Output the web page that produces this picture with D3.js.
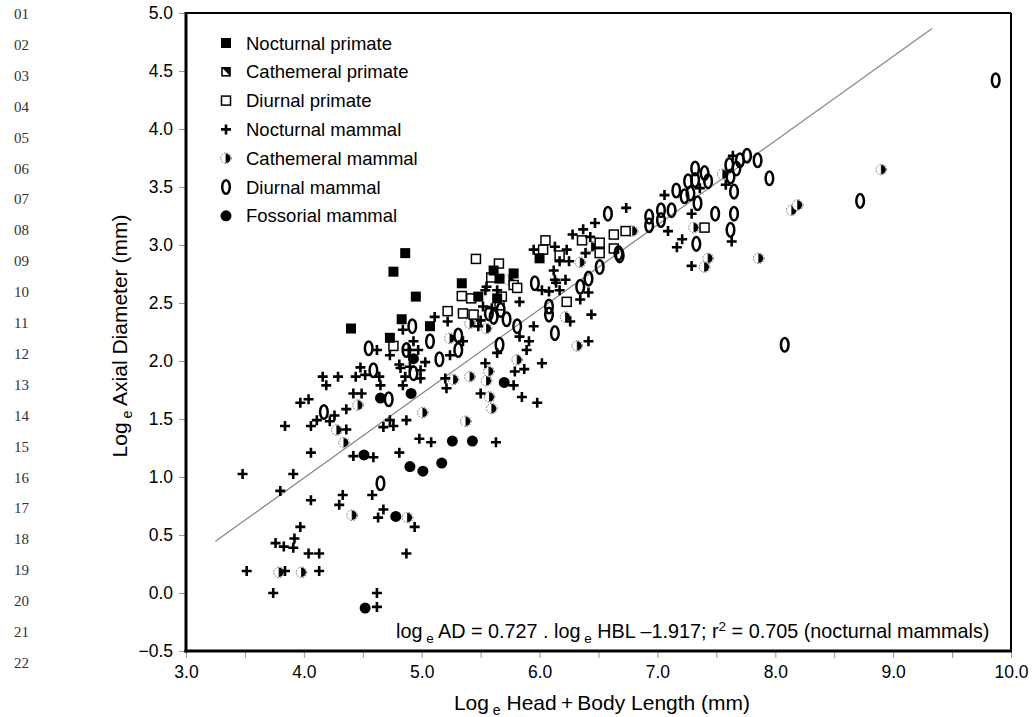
<!DOCTYPE html>
<html>
<head>
<meta charset="utf-8">
<script src="https://cdn.jsdelivr.net/npm/d3@7"></script>
<style>
  html, body { margin: 0; padding: 0; background: #fff; }
  svg { display: block; }
  text { font-family: "Liberation Sans", Arial, Helvetica, sans-serif; }
</style>
</head>
<body>
<svg id="chart" width="1034" height="717"></svg>
<script>
// Log-log scatter of axial eye diameter vs head+body length, by activity group.

const xTicks = [3, 4, 5, 6, 7, 8, 9, 10];
const yTicks = [-0.5, 0, 0.5, 1, 1.5, 2, 2.5, 3, 3.5, 4, 4.5, 5];
const lineNumbers = ["01","02","03","04","05","06","07","08","09","10","11","12","13","14","15","16","17","18","19","20","21","22"];

const legendLabels = ["Nocturnal primate", "Cathemeral primate", "Diurnal primate",
  "Nocturnal mammal", "Cathemeral mammal", "Diurnal mammal", "Fossorial mammal"];

// regression for nocturnal mammals: log AD = slope * log HBL + intercept
const fitSlope = 0.727;
const fitIntercept = -1.917;
const fitRange = [3.25, 9.33];

const nocPrimateX = [4.86, 4.76, 4.83, 4.40, 4.73, 4.95, 5.07, 5.34, 5.48, 5.61, 5.78, 5.66, 5.64, 6.00];
const nocPrimateY = [2.93, 2.77, 2.36, 2.28, 2.20, 2.555, 2.30, 2.67, 2.555, 2.78, 2.755, 2.71, 2.54, 2.885];

const cathPrimateX = [];
const cathPrimateY = [];

const diuPrimateX = [4.76, 5.34, 5.42, 5.22, 5.35, 5.44, 5.46, 5.655, 5.59, 5.78, 5.81, 5.68, 5.66,
  6.05, 6.03, 6.17, 6.36, 6.51, 6.51, 6.63, 6.63, 6.23, 6.73, 7.40];
const diuPrimateY = [2.13, 2.56, 2.54, 2.43, 2.41, 2.40, 2.88, 2.84, 2.72, 2.655, 2.63, 2.555, 2.48,
  3.04, 2.96, 2.91, 3.04, 3.02, 2.93, 3.09, 2.97, 2.51, 3.12, 3.15];

const nocMammalX = [3.515, 3.84, 4.13, 3.74, 4.62, 4.62,
  3.84, 4.06, 4.36, 4.06, 4.42, 4.59, 4.81,
  3.48, 3.91, 3.80, 4.06, 4.33, 4.30, 4.58,
  4.675, 4.63, 3.97, 3.92, 3.76, 3.83, 3.91, 4.04, 4.13, 4.87,
  4.84, 4.62, 4.73, 4.81, 4.48, 4.52, 4.44, 4.29, 4.16, 4.19, 4.64, 4.65, 4.84, 4.42, 4.49,
  4.36, 4.04, 3.97, 4.11, 4.26, 4.22, 4.73, 4.87, 4.675, 4.76,
  5.55, 5.11, 5.22, 5.48, 4.93, 4.97, 4.89, 5.35, 5.24, 5.03, 4.99, 4.90, 4.82, 4.86, 4.99,
  5.20, 5.21, 5.54,
  5.54, 5.64, 5.83, 5.52, 5.595, 5.50, 5.83, 5.95, 5.91, 5.89, 5.64, 6.02, 5.79, 5.87,
  5.50, 5.78, 5.85, 5.98, 6.12, 5.95, 6.13, 6.23, 6.28, 6.37, 6.43, 6.47, 6.39, 6.17, 6.25,
  6.22, 6.13, 6.08, 6.14, 6.02, 6.17, 6.345, 6.415, 6.44, 6.26, 6.415,
  4.98, 5.08, 5.63, 4.94,
  6.735, 7.06, 7.09, 7.36, 7.29, 7.21, 7.165, 7.29, 7.63, 7.58, 7.64];
const nocMammalY = [0.19, 0.19, 0.19, 0.00, 0.00, -0.12,
  1.44, 1.44, 1.41, 1.21, 1.18, 1.17, 1.21,
  1.026, 1.026, 0.88, 0.80, 0.845, 0.76, 0.845,
  0.72, 0.65, 0.57, 0.47, 0.43, 0.40, 0.39, 0.34, 0.34, 0.34,
  2.27, 2.095, 2.05, 1.97, 1.945, 1.88, 1.865, 1.865, 1.865, 1.79, 1.865, 1.79, 1.79, 1.72, 1.72,
  1.585, 1.67, 1.64, 1.49, 1.53, 1.48, 1.49, 1.49, 1.43, 1.44,
  2.64, 2.38, 2.34, 2.30, 2.17, 2.095, 2.095, 2.17, 2.05, 1.99, 1.92, 1.95, 1.94, 1.865, 1.85,
  1.85, 1.765, 1.98,
  2.61, 2.61, 2.51, 2.47, 2.455, 2.35, 2.21, 2.30, 2.17, 2.095, 2.07, 1.98, 1.91, 1.93,
  1.72, 1.79, 1.69, 1.64, 2.78, 2.96, 2.985, 2.96, 3.09, 3.135, 3.07, 3.19, 2.93, 2.86, 2.86,
  2.70, 2.70, 2.60, 2.675, 2.61, 2.61, 2.53, 2.59, 2.40, 2.34, 2.17,
  1.33, 1.30, 1.30, 0.57,
  3.32, 3.43, 3.12, 3.49, 3.27, 3.05, 2.98, 2.82, 3.03, 3.52, 3.77];

const cathMammalX = [3.79, 3.98, 4.28, 4.34, 4.41, 4.88, 4.46, 5.41, 5.55, 5.24, 5.27, 5.41, 5.55,
  5.74, 5.57, 5.81, 5.575, 5.595, 5.01, 6.44, 6.345, 6.22, 6.32, 6.79, 7.31, 7.43, 7.40, 7.555,
  8.14, 8.19, 7.86, 8.90, 5.375];
const cathMammalY = [0.178, 0.178, 1.405, 1.296, 0.67, 0.65, 1.62, 2.325, 2.28, 2.195, 1.84, 1.865, 1.83,
  2.70, 1.91, 2.01, 1.69, 1.59, 1.555, 2.985, 2.85, 2.38, 2.13, 3.12, 3.15, 2.885, 2.81, 3.61,
  3.30, 3.345, 2.885, 3.65, 1.48];

const diuMammalX = [4.65, 4.55, 4.87, 4.59, 4.72, 4.17, 4.92, 5.07, 5.31, 5.31, 5.15, 4.93, 5.57,
  5.61, 5.72, 5.67, 5.81, 5.66, 5.96, 6.415, 6.345, 6.08, 6.08, 6.13, 6.51, 6.67, 6.58, 6.68,
  6.93, 6.93, 7.03, 7.03, 7.12, 7.16, 7.23, 7.26, 7.32, 7.32, 7.40, 7.43, 7.28, 7.34, 7.49, 7.33,
  7.62, 7.65, 7.65, 7.62, 7.61, 7.67, 7.70, 7.76, 7.85, 7.95, 8.08, 9.87, 8.72];
const diuMammalY = [0.946, 2.11, 2.095, 1.92, 1.67, 1.56, 2.30, 2.17, 2.22, 2.095, 2.015, 1.895, 2.41,
  2.38, 2.36, 2.44, 2.30, 2.14, 2.67, 2.71, 2.64, 2.47, 2.40, 2.24, 2.81, 2.93, 3.27, 2.91,
  3.245, 3.17, 3.30, 3.215, 3.30, 3.47, 3.42, 3.55, 3.66, 3.56, 3.62, 3.55, 3.445, 3.36, 3.27, 3.01,
  3.13, 3.27, 3.46, 3.59, 3.69, 3.66, 3.73, 3.77, 3.73, 3.575, 2.14, 4.42, 3.38];

const fossMammalX = [4.52, 4.51, 4.90, 4.78, 4.65, 4.91, 5.70, 5.26, 5.43, 5.01, 5.17, 4.93];
const fossMammalY = [-0.13, 1.19, 1.09, 0.66, 1.68, 1.72, 1.815, 1.31, 1.31, 1.05, 1.12, 2.02];

const svg = d3.select("#chart");

const plot = { left: 186, right: 1011, top: 13, bottom: 651 };
const x = d3.scaleLinear().domain([3, 10]).range([plot.left, plot.right]);
const y = d3.scaleLinear().domain([-0.5, 5]).range([plot.bottom, plot.top]);

// page line numbers in the margin
svg.append("g").selectAll("text").data(lineNumbers).join("text")
  .attr("x", 14)
  .attr("y", (d, i) => 19 + i * 30.9)
  .attr("fill", "#333")
  .style("font-family", "'Liberation Serif', 'Times New Roman', serif")
  .style("font-size", "15px")
  .text(d => d);

// ticks (outside) with labels
const xAxis = d3.axisBottom(x).tickValues(d3.range(3, 10.01, 0.5)).tickSize(6)
  .tickFormat(d => xTicks.includes(d) ? d3.format(".1f")(d) : "");
const gx = svg.append("g").attr("transform", `translate(0,${plot.bottom})`).call(xAxis);
gx.select(".domain").remove();
gx.selectAll(".tick line").attr("stroke", "#999").attr("transform", "translate(0,1)");
gx.selectAll(".tick text").attr("fill", "#000").style("font-size", "17.5px").attr("dy", "1.0em");

const yAxis = d3.axisLeft(y).tickValues(yTicks).tickSize(6)
  .tickFormat(d => d3.format(".1f")(d).replace("-", "\u2212"));
const gy = svg.append("g").attr("transform", `translate(${plot.left},0)`).call(yAxis);
gy.select(".domain").remove();
gy.selectAll(".tick line").attr("stroke", "#999").attr("transform", "translate(-1,0)");
gy.selectAll(".tick text").attr("fill", "#000").style("font-size", "17.5px").attr("x", -13);

// frame: heavier left and bottom
svg.append("line").attr("x1", plot.left).attr("x2", plot.right).attr("y1", plot.top).attr("y2", plot.top)
  .attr("stroke", "#000").attr("stroke-width", 2);
svg.append("line").attr("x1", plot.right).attr("x2", plot.right).attr("y1", plot.top).attr("y2", plot.bottom)
  .attr("stroke", "#000").attr("stroke-width", 2);
svg.append("line").attr("x1", plot.left).attr("x2", plot.left).attr("y1", plot.top - 1).attr("y2", plot.bottom + 1.5)
  .attr("stroke", "#000").attr("stroke-width", 3);
svg.append("line").attr("x1", plot.left - 1.5).attr("x2", plot.right + 1).attr("y1", plot.bottom).attr("y2", plot.bottom)
  .attr("stroke", "#000").attr("stroke-width", 3);

// axis titles
const yTitle = svg.append("text")
  .attr("transform", `translate(127,${(plot.top + plot.bottom) / 2 + 4}) rotate(-90)`)
  .attr("text-anchor", "middle").style("font-size", "21px");
yTitle.append("tspan").text("Log");
yTitle.append("tspan").attr("dy", 5).style("font-size", "14px").text(" e");
yTitle.append("tspan").attr("dy", -5).text(" Axial Diameter (mm)");

const xTitle = svg.append("text")
  .attr("x", 602).attr("y", 710)
  .attr("text-anchor", "middle").style("font-size", "21px");
xTitle.append("tspan").text("Log");
xTitle.append("tspan").attr("dy", 5).style("font-size", "14px").text(" e");
xTitle.append("tspan").attr("dy", -5).text(" Head\u2009+\u2009Body Length (mm)");

// regression line
svg.append("line")
  .attr("x1", x(fitRange[0])).attr("y1", y(fitSlope * fitRange[0] + fitIntercept))
  .attr("x2", x(fitRange[1])).attr("y2", y(fitSlope * fitRange[1] + fitIntercept))
  .attr("stroke", "#888").attr("stroke-width", 1.3);

// marker renderers
const markers = {
  nocPrimate: g => g.append("rect").attr("x", -5).attr("y", -5).attr("width", 10).attr("height", 10).attr("fill", "#000"),
  cathPrimate: g => {
    g.append("rect").attr("x", -4).attr("y", -4).attr("width", 8).attr("height", 8)
      .attr("fill", "#fff").attr("stroke", "#000").attr("stroke-width", 1.6);
    g.append("path").attr("d", "M-4,-4 L4,-4 L4,4 Z").attr("fill", "#000");
  },
  diuPrimate: g => g.append("rect").attr("x", -4.5).attr("y", -4.5).attr("width", 9).attr("height", 9)
    .attr("fill", "#fff").attr("stroke", "#000").attr("stroke-width", 1.5),
  nocMammal: g => g.append("path").attr("d", "M-5,0 H5 M0,-5 V5")
    .attr("stroke", "#000").attr("stroke-width", 2.6),
  cathMammal: g => {
    g.append("circle").attr("r", 5.3).attr("fill", "#fff")
      .attr("stroke", "#777").attr("stroke-width", 1).attr("stroke-dasharray", "1.6,1.2");
    g.append("path").attr("d", "M0,-4.5 A4.5,4.5 0 0 1 0,4.5 Z").attr("fill", "#000");
    g.append("line").attr("x1", 0).attr("x2", 0).attr("y1", -4.7).attr("y2", 4.7)
      .attr("stroke", "#000").attr("stroke-width", 0.8);
  },
  diuMammal: g => g.append("ellipse").attr("rx", 3.8).attr("ry", 6.8)
    .attr("fill", "none").attr("stroke", "#000").attr("stroke-width", 2.5),
  fossMammal: g => g.append("circle").attr("r", 5.5).attr("fill", "#000")
};

function drawSeries(xs, ys, kind) {
  const pts = xs.map((v, i) => [v, ys[i]]);
  svg.append("g").attr("class", kind).selectAll("g").data(pts).join("g")
    .attr("transform", d => `translate(${x(d[0])},${y(d[1])})`)
    .each(function () { markers[kind](d3.select(this)); });
}

drawSeries(cathMammalX, cathMammalY, "cathMammal");
drawSeries(diuPrimateX, diuPrimateY, "diuPrimate");
drawSeries(nocMammalX, nocMammalY, "nocMammal");
drawSeries(fossMammalX, fossMammalY, "fossMammal");
drawSeries(diuMammalX, diuMammalY, "diuMammal");
drawSeries(nocPrimateX, nocPrimateY, "nocPrimate");
drawSeries(cathPrimateX, cathPrimateY, "cathPrimate");

// legend
const legendKinds = ["nocPrimate", "cathPrimate", "diuPrimate", "nocMammal", "cathMammal", "diuMammal", "fossMammal"];
const legend = svg.append("g").attr("transform", "translate(226,43)");
legendLabels.forEach((label, i) => {
  const row = legend.append("g").attr("transform", `translate(0,${i * 28.8})`);
  markers[legendKinds[i]](row.append("g"));
  row.append("text").attr("x", 20).attr("y", 6.5).style("font-size", "18.5px").text(label);
});

// fit equation
const eq = svg.append("text").attr("x", 396).attr("y", 638).style("font-size", "19.8px");
eq.append("tspan").text("log");
eq.append("tspan").attr("dy", 5).style("font-size", "13.5px").text(" e");
eq.append("tspan").attr("dy", -5).text(" AD = 0.727 . log");
eq.append("tspan").attr("dy", 5).style("font-size", "13.5px").text(" e");
eq.append("tspan").attr("dy", -5).text(" HBL \u20131.917; r");
eq.append("tspan").attr("dy", -7).style("font-size", "13.5px").text("2");
eq.append("tspan").attr("dy", 7).text(" = 0.705 (nocturnal mammals)");
</script>
</body>
</html>
